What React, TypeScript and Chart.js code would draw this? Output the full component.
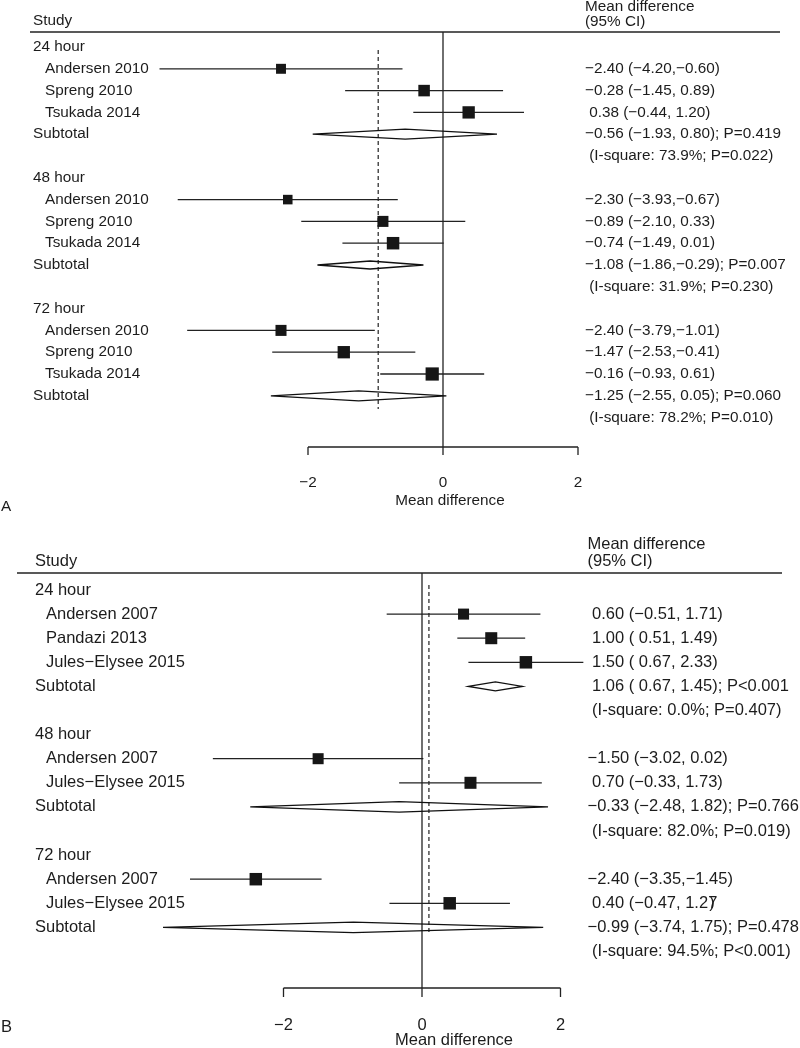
import React, { useEffect, useRef } from "react";
import { Chart, registerables } from "chart.js";

Chart.register(...registerables);

// ---------------- Panel A data ----------------
const A_GROUPS = ["24 hour", "48 hour", "72 hour"];
const A_STUDIES = [
  "Andersen 2010", "Spreng 2010", "Tsukada 2014",
  "Andersen 2010", "Spreng 2010", "Tsukada 2014",
  "Andersen 2010", "Spreng 2010", "Tsukada 2014",
];
const A_STUDY_GROUP = [0, 0, 0, 1, 1, 1, 2, 2, 2];
const A_MD = [-2.40, -0.28, 0.38, -2.30, -0.89, -0.74, -2.40, -1.47, -0.16];
const A_LO = [-4.20, -1.45, -0.44, -3.93, -2.10, -1.49, -3.79, -2.53, -0.93];
const A_HI = [-0.60, 0.89, 1.20, -0.67, 0.33, 0.01, -1.01, -0.41, 0.61];
const A_WEIGHT = [26, 35, 40, 24, 32, 41, 32, 40, 46];
const A_SUB_MD = [-0.56, -1.08, -1.25];
const A_SUB_LO = [-1.93, -1.86, -2.55];
const A_SUB_HI = [0.80, -0.29, 0.05];
const A_SUB_P = ["P=0.419", "P=0.007", "P=0.060"];
const A_I2 = ["73.9%", "31.9%", "78.2%"];
const A_HET_P = ["P=0.022", "P=0.230", "P=0.010"];
const A_OVERALL = -0.96;
const A_TICKS = [-2, 0, 2];

// ---------------- Panel B data ----------------
const B_GROUPS = ["24 hour", "48 hour", "72 hour"];
const B_STUDIES = [
  "Andersen 2007", "Pandazi 2013", "Jules\u2212Elysee 2015",
  "Andersen 2007", "Jules\u2212Elysee 2015",
  "Andersen 2007", "Jules\u2212Elysee 2015",
];
const B_STUDY_GROUP = [0, 0, 0, 1, 1, 2, 2];
const B_MD = [0.60, 1.00, 1.50, -1.50, 0.70, -2.40, 0.40];
const B_LO = [-0.51, 0.51, 0.67, -3.02, -0.33, -3.35, -0.47];
const B_HI = [1.71, 1.49, 2.33, 0.02, 1.73, -1.45, 1.27];
const B_WEIGHT = [32, 38, 41, 32, 38, 41, 41];
const B_CI_OVERLAP = [false, false, false, false, false, false, true];
const B_SUB_MD = [1.06, -0.33, -0.99];
const B_SUB_LO = [0.67, -2.48, -3.74];
const B_SUB_HI = [1.45, 1.82, 1.75];
const B_SUB_P = ["P<0.001", "P=0.766", "P=0.478"];
const B_I2 = ["0.0%", "82.0%", "94.5%"];
const B_HET_P = ["P=0.407", "P=0.019", "P<0.001"];
const B_OVERALL = 0.10;
const B_TICKS = [-2, 0, 2];

// ---------------- shared text ----------------
const STUDY_HEAD = "Study";
const MD_HEAD = ["Mean difference", "(95% CI)"];
const SUBTOTAL = "Subtotal";
const X_TITLE = "Mean difference";

const FONT_FAMILY = '"Liberation Sans", Arial, Helvetica, sans-serif';
const INK = "#1c1c1c";

type Panel = {
  letter: string;
  groups: string[];
  studies: string[];
  studyGroup: number[];
  md: number[];
  lo: number[];
  hi: number[];
  weight: number[];
  ciOverlap?: boolean[];
  subMd: number[];
  subLo: number[];
  subHi: number[];
  subP: string[];
  i2: string[];
  hetP: string[];
  overall: number;
  ticks: number[];
};

type Layout = {
  font: number;
  xZeroPx: number;
  xUnitPx: number;
  yRow0Px: number;
  yRowPx: number;
  height: number;
  groupX: number;
  studyX: number;
  rightX: number;
  studyHeadY: number;
  mdHeadY: number[];
  headLineY: number;
  headLineX0: number;
  headLineX1: number;
  axisY: number;
  tickLen: number;
  tickLabelY: number;
  xTitleX: number;
  xTitleY: number;
  letterX: number;
  letterY: number;
  dashTop: number;
  dashBottom: number;
  diamondHalf: number[];
  boxScale: number;
};

const PANEL_A: Panel = {
  letter: "A",
  groups: A_GROUPS,
  studies: A_STUDIES,
  studyGroup: A_STUDY_GROUP,
  md: A_MD,
  lo: A_LO,
  hi: A_HI,
  weight: A_WEIGHT,
  subMd: A_SUB_MD,
  subLo: A_SUB_LO,
  subHi: A_SUB_HI,
  subP: A_SUB_P,
  i2: A_I2,
  hetP: A_HET_P,
  overall: A_OVERALL,
  ticks: A_TICKS,
};

const PANEL_B: Panel = {
  letter: "B",
  groups: B_GROUPS,
  studies: B_STUDIES,
  studyGroup: B_STUDY_GROUP,
  md: B_MD,
  lo: B_LO,
  hi: B_HI,
  weight: B_WEIGHT,
  ciOverlap: B_CI_OVERLAP,
  subMd: B_SUB_MD,
  subLo: B_SUB_LO,
  subHi: B_SUB_HI,
  subP: B_SUB_P,
  i2: B_I2,
  hetP: B_HET_P,
  overall: B_OVERALL,
  ticks: B_TICKS,
};

const LAYOUT_A: Layout = {
  font: 15.3,
  xZeroPx: 443,
  xUnitPx: 67.5,
  yRow0Px: 47,
  yRowPx: 21.8,
  height: 524,
  groupX: 33,
  studyX: 45,
  rightX: 585,
  studyHeadY: 21,
  mdHeadY: [7, 21.5],
  headLineY: 32,
  headLineX0: 30,
  headLineX1: 780,
  axisY: 447,
  tickLen: 8,
  tickLabelY: 483,
  xTitleX: 450,
  xTitleY: 501,
  letterX: 1,
  letterY: 507,
  dashTop: 50,
  dashBottom: 409,
  diamondHalf: [5, 4, 5],
  boxScale: 1.95,
};

const LAYOUT_B: Layout = {
  font: 16.5,
  xZeroPx: 422,
  xUnitPx: 69.25,
  yRow0Px: 66,
  yRowPx: 24.1,
  height: 524,
  groupX: 35,
  studyX: 46,
  rightX: 587.5,
  studyHeadY: 37,
  mdHeadY: [20, 37],
  headLineY: 49,
  headLineX0: 17,
  headLineX1: 782,
  axisY: 464,
  tickLen: 9,
  tickLabelY: 501,
  xTitleX: 454,
  xTitleY: 516,
  letterX: 1,
  letterY: 503,
  dashTop: 61,
  dashBottom: 408,
  diamondHalf: [4.5, 5.3, 5.3],
  boxScale: 1.95,
};

function fmt(v: number): string {
  const s = Math.abs(v).toFixed(2);
  return v < 0 ? "\u2212" + s : " " + s;
}

type RowItem =
  | { kind: "group"; row: number; g: number }
  | { kind: "study"; row: number; i: number }
  | { kind: "sub"; row: number; g: number }
  | { kind: "het"; row: number; g: number };

function buildRows(p: Panel): RowItem[] {
  const rows: RowItem[] = [];
  let r = 0;
  p.groups.forEach((_, g) => {
    rows.push({ kind: "group", row: r++, g });
    p.studies.forEach((_, i) => {
      if (p.studyGroup[i] === g) rows.push({ kind: "study", row: r++, i });
    });
    rows.push({ kind: "sub", row: r++, g });
    rows.push({ kind: "het", row: r++, g });
  });
  return rows;
}

function makeConfig(p: Panel, L: Layout): any {
  const rows = buildRows(p);
  const studyRows = rows.filter((x) => x.kind === "study") as { kind: "study"; row: number; i: number }[];
  const subRows = rows.filter((x) => x.kind === "sub") as { kind: "sub"; row: number; g: number }[];

  const ciDatasets = studyRows.map((s) => ({
    type: "scatter",
    data: [
      { x: p.lo[s.i], y: s.row },
      { x: p.hi[s.i], y: s.row },
    ],
    showLine: true,
    borderColor: "#222",
    borderWidth: 1.3,
    pointRadius: 0,
    order: 2,
  }));

  const boxDataset = {
    type: "scatter",
    data: studyRows.map((s) => ({ x: p.md[s.i], y: s.row })),
    pointStyle: "rect",
    pointRadius: studyRows.map((s) => (L.boxScale * Math.sqrt(p.weight[s.i])) / Math.SQRT2),
    backgroundColor: "#161616",
    borderWidth: 0,
    order: 0,
  };

  const W = 800;
  const xMin = -L.xZeroPx / L.xUnitPx;
  const xMax = (W - L.xZeroPx) / L.xUnitPx;
  const yMin = -L.yRow0Px / L.yRowPx;
  const yMax = (L.height - L.yRow0Px) / L.yRowPx;

  const forest = {
    id: "forest" + p.letter,
    beforeDatasetsDraw(chart: any) {
      const ctx = chart.ctx as CanvasRenderingContext2D;
      const xs = chart.scales.x;
      const X = (v: number) => xs.getPixelForValue(v);
      ctx.save();
      // reference line at 0
      ctx.strokeStyle = "#222";
      ctx.lineWidth = 1.3;
      ctx.beginPath();
      ctx.moveTo(X(0), L.headLineY);
      ctx.lineTo(X(0), L.axisY);
      ctx.stroke();
      // dashed overall line
      ctx.lineWidth = 1.2;
      ctx.setLineDash([4, 3]);
      ctx.beginPath();
      ctx.moveTo(X(p.overall), L.dashTop);
      ctx.lineTo(X(p.overall), L.dashBottom);
      ctx.stroke();
      ctx.setLineDash([]);
      ctx.restore();
    },
    afterDatasetsDraw(chart: any) {
      const ctx = chart.ctx as CanvasRenderingContext2D;
      const xs = chart.scales.x;
      const ys = chart.scales.y;
      const X = (v: number) => xs.getPixelForValue(v);
      const Y = (r: number) => ys.getPixelForValue(r);
      ctx.save();

      // diamonds
      ctx.strokeStyle = "#111";
      ctx.lineWidth = 1.3;
      ctx.lineJoin = "miter";
      subRows.forEach((s) => {
        const y = Y(s.row);
        const h = L.diamondHalf[s.g];
        ctx.beginPath();
        ctx.moveTo(X(p.subLo[s.g]), y);
        ctx.lineTo(X(p.subMd[s.g]), y - h);
        ctx.lineTo(X(p.subHi[s.g]), y);
        ctx.lineTo(X(p.subMd[s.g]), y + h);
        ctx.closePath();
        ctx.stroke();
      });

      // header rule
      ctx.strokeStyle = "#222";
      ctx.lineWidth = 1.6;
      ctx.beginPath();
      ctx.moveTo(L.headLineX0, L.headLineY);
      ctx.lineTo(L.headLineX1, L.headLineY);
      ctx.stroke();

      // axis bracket
      const t0 = p.ticks[0];
      const t1 = p.ticks[p.ticks.length - 1];
      ctx.lineWidth = 1.3;
      ctx.beginPath();
      ctx.moveTo(X(t0), L.axisY);
      ctx.lineTo(X(t1), L.axisY);
      p.ticks.forEach((t) => {
        ctx.moveTo(X(t), L.axisY);
        ctx.lineTo(X(t), L.axisY + L.tickLen);
      });
      ctx.stroke();

      // text
      ctx.fillStyle = INK;
      ctx.font = `${L.font}px ${FONT_FAMILY}`;
      ctx.textBaseline = "middle";
      ctx.textAlign = "left";
      ctx.fillText(STUDY_HEAD, L.groupX, L.studyHeadY);
      MD_HEAD.forEach((t, k) => ctx.fillText(t, L.rightX, L.mdHeadY[k]));

      rows.forEach((it) => {
        const y = Y(it.row);
        if (it.kind === "group") {
          ctx.fillText(p.groups[it.g], L.groupX, y);
        } else if (it.kind === "study") {
          const i = it.i;
          ctx.fillText(p.studies[i], L.studyX, y);
          const overlap = p.ciOverlap && p.ciOverlap[i];
          const base = fmt(p.md[i]) + " (" + fmt(p.lo[i]) + "," + fmt(p.hi[i]);
          if (overlap) {
            ctx.fillText(base, L.rightX, y);
            const w = ctx.measureText(base.slice(0, -1)).width;
            ctx.fillText(")", L.rightX + w + 1, y);
          } else {
            ctx.fillText(base + ")", L.rightX, y);
          }
        } else if (it.kind === "sub") {
          const g = it.g;
          ctx.fillText(SUBTOTAL, L.groupX, y);
          ctx.fillText(
            fmt(p.subMd[g]) + " (" + fmt(p.subLo[g]) + "," + fmt(p.subHi[g]) + "); " + p.subP[g],
            L.rightX,
            y
          );
        } else {
          const g = it.g;
          ctx.fillText(" (I-square: " + p.i2[g] + "; " + p.hetP[g] + ")", L.rightX, y);
        }
      });

      // tick labels
      ctx.textAlign = "center";
      p.ticks.forEach((t) => {
        const s = t < 0 ? "\u2212" + Math.abs(t) : String(t);
        ctx.fillText(s, X(t), L.tickLabelY);
      });
      ctx.fillText(X_TITLE, L.xTitleX, L.xTitleY);

      // panel letter
      ctx.textAlign = "left";
      ctx.fillText(p.letter, L.letterX, L.letterY);

      ctx.restore();
    },
  };

  return {
    type: "scatter",
    data: { datasets: [boxDataset, ...ciDatasets] },
    options: {
      animation: false,
      responsive: false,
      devicePixelRatio: 1,
      layout: { padding: 0, autoPadding: false },
      plugins: {
        legend: { display: false },
        tooltip: { enabled: false },
        title: { display: false },
      },
      scales: {
        x: { type: "linear", display: false, bounds: "data", min: xMin, max: xMax },
        y: { type: "linear", display: false, bounds: "data", min: yMin, max: yMax, reverse: true },
      },
    },
    plugins: [forest],
  };
}

function ForestPanel({ panel, layout, top }: { panel: Panel; layout: Layout; top: number }) {
  const ref = useRef<HTMLCanvasElement | null>(null);
  useEffect(() => {
    if (!ref.current) return;
    const chart = new Chart(ref.current, makeConfig(panel, layout));
    return () => chart.destroy();
  }, [panel, layout]);
  return (
    <canvas
      ref={ref}
      width={800}
      height={layout.height}
      style={{ position: "absolute", left: 0, top, width: 800, height: layout.height, display: "block" }}
    />
  );
}

export default function App() {
  return (
    <div style={{ position: "absolute", left: 0, top: 0, width: 800, height: 1048, background: "#fff" }}>
      <ForestPanel panel={PANEL_A} layout={LAYOUT_A} top={0} />
      <ForestPanel panel={PANEL_B} layout={LAYOUT_B} top={524} />
    </div>
  );
}
